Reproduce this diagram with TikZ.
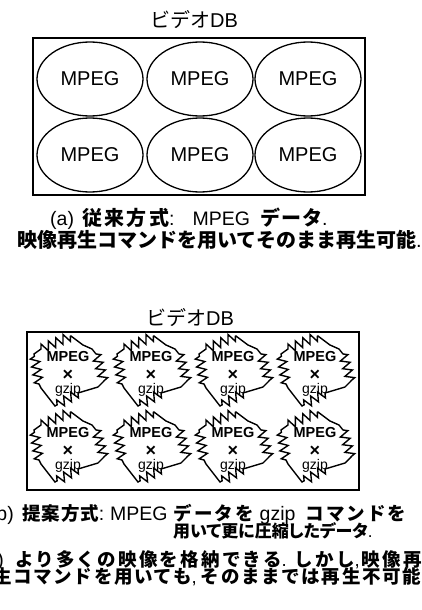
\documentclass[tikz,border=0pt]{standalone}
\usepackage{fontspec}
\setmainfont{Liberation Sans}
\newfontfamily\jp{Noto Sans CJK JP}
\usetikzlibrary{shapes.geometric,decorations.pathmorphing}
\newcommand{\fs}[1]{\fontsize{#1}{#1}\selectfont}
\newcommand{\J}[2]{{\jp\bfseries\addfontfeatures{LetterSpace=#1}#2}}
\newcommand{\JP}[1]{{\jp\bfseries\addfontfeatures{RawFeature=+palt}#1}}
\tikzset{
  frame/.style={draw, line width=1.5pt},
  mpegell/.style={ellipse, draw, line width=1.3pt, minimum width=106pt, minimum height=74pt, inner sep=0pt, font=\fs{20}},
  txt/.style={inner sep=0pt, font=\fs{20}},
  blobline/.style={draw, line width=1.4pt, line join=miter, decoration={zigzag, segment length=8pt, amplitude=4.5pt}},
  blobtxt/.style={inner sep=0pt, font=\fs{14.5}\bfseries},
  blob/.pic={
    \draw[blobline] (-27,-26) decorate{-- (3,-39)} -- (15,-30) -- (24,-26) -- (28,-21)
      decorate{-- (36,6)} -- (30,12) -- (10,18) decorate{-- (-13,31)} -- (-27,13) -- (-29,9)
      decorate{-- (-34,-21)} -- cycle;
    \node[blobtxt] (-m) at (0,-18) {MPEG};
    \node[blobtxt, font=\fs{18}\bfseries] (-x) at (0,0) {×};
    \node[blobtxt, font=\fs{14}] (-g) at (0,15) {gzip};
  }
}
\begin{document}
\begin{tikzpicture}[x=1pt, y=-1pt]
\useasboundingbox (0,0) rectangle (422,610);
\clip (0,0) rectangle (422,610);

% ---------- (a) ----------
\node[txt, anchor=base] (t1) at (194,28) {{\jp ビデオ}DB};
\draw[frame] (33,38) rectangle (365,195);
\node[mpegell] (e11) at (90,79) {MPEG};
\node[mpegell] (e12) at (200,79) {MPEG};
\node[mpegell] (e13) at (308,79) {MPEG};
\node[mpegell] (e21) at (90,155) {MPEG};
\node[mpegell] (e22) at (200,155) {MPEG};
\node[mpegell] (e23) at (308,155) {MPEG};

\node[txt, anchor=base west, font=\fs{19.5}] (ca1) at (50,225) {(a)\hspace{8pt}{\fs{20}\J{12}{従来方式}}:\hspace{18pt}MPEG\hspace{10pt}{\fs{20}\J{5}{データ}}.};
\node[txt, anchor=base west] (ca2) at (17,247) {\J{0}{映像再生コマンドを用いてそのまま再生可能}.};

% ---------- (b) ----------
\node[txt, anchor=base] (t2) at (190,325) {{\jp ビデオ}DB};
\draw[frame] (27,332) rectangle (359,490);
\foreach \c/\x in {1/68,2/151,3/233,4/315}{
  \pic (b1\c) at (\x,375) {blob};
  \pic (b2\c) at (\x,451) {blob};
}

\node[txt, anchor=base east, font=\fs{19.5}] (cb0) at (14,520.5) {(b)};
\node[txt, anchor=base west, font=\fs{19.5}] (cb1) at (22,520.5) {{\fs{18.5}\J{5}{提案方式}}:};
\node[txt, anchor=base west, font=\fs{19.5}] (cb2) at (110,520.5) {MPEG\hspace{6pt}{\fs{18.5}\J{11}{データを}}\hspace{6pt}gzip\hspace{10pt}{\fs{18.5}\J{11}{コマンドを}}};
\node[txt, anchor=base west, font=\fs{17}] (cb3) at (173,537) {\JP{用いて更に圧縮したデータ}.};

\node[txt, anchor=base east, font=\fs{19.5}] (cc0) at (4,566.5) {(c)};
\node[txt, anchor=base west, font=\fs{18.5}] (cc1) at (15,566.5) {\J{12}{より多くの映像を格納できる}.\hspace{8pt}\J{12}{しかし},\hspace{2pt}\J{12}{映像再生}};
\node[txt, anchor=base west, font=\fs{18.5}] (cc2) at (-7,583) {\J{9}{生コマンドを用いても},\hspace{4pt}\J{9}{そのままでは再生不可能}.};
\end{tikzpicture}
\end{document}
